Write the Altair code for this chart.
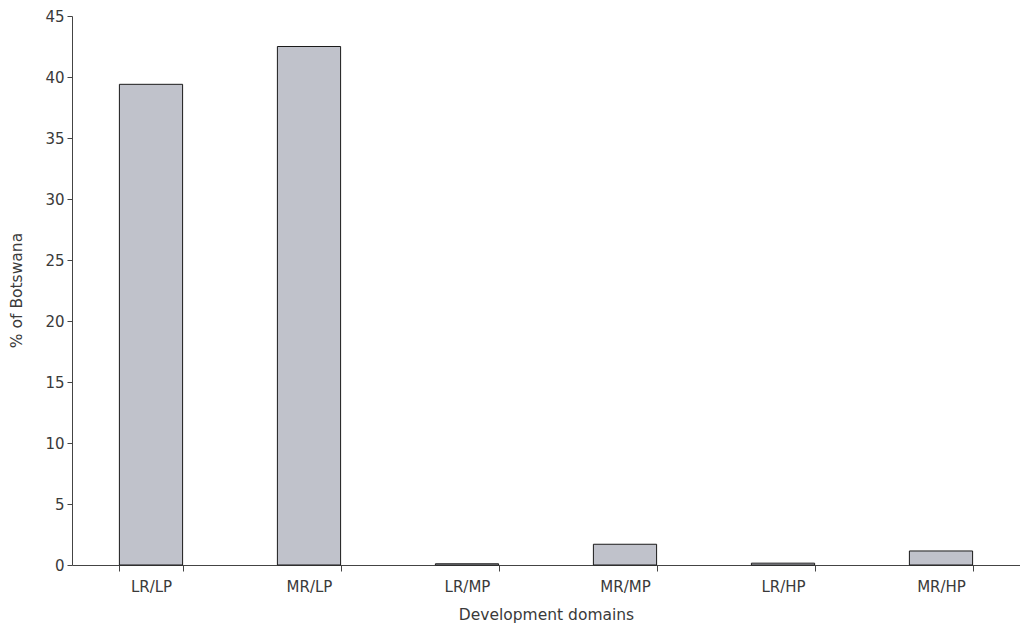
import altair as alt
import pandas as pd

categories = ["LR/LP", "MR/LP", "LR/MP", "MR/MP", "LR/HP", "MR/HP"]
values = [39.4, 42.5, 0.1, 1.7, 0.15, 1.15]

df = pd.DataFrame({"domain": categories, "pct": values})

FONT = "DejaVu Sans"
TXT = "#3a3a3a"

chart = alt.Chart(df).mark_bar(
    color="#c0c2cb", stroke="#1a1a1a", strokeWidth=1
).encode(
    x=alt.X("domain:N", sort=categories, title="Development domains",
            scale=alt.Scale(paddingInner=0.6, paddingOuter=0.3),
            axis=alt.Axis(labelAngle=0, tickBand="extent", tickSize=6,
                          labelPadding=8, titleY=49, titleBaseline="middle",
                          labelFontSize=15, titleFontSize=15.5,
                          labelFont=FONT, titleFont=FONT,
                          labelColor=TXT, titleColor=TXT,
                          domainColor="#444", tickColor="#444",
                          titleFontWeight="normal")),
    y=alt.Y("pct:Q", title="% of Botswana",
            scale=alt.Scale(domain=[0, 45], nice=False),
            axis=alt.Axis(values=list(range(0, 50, 5)), tickSize=5,
                          labelPadding=3, titleX=-48, titleY=274,
                          labelFontSize=15, titleFontSize=15.5,
                          labelFont=FONT, titleFont=FONT,
                          labelColor=TXT, titleColor=TXT,
                          domainColor="#444", tickColor="#444",
                          grid=False, titleFontWeight="normal")),
).properties(
    width=948, height=549,
    autosize=alt.AutoSizeParams(type="none"),
    padding={"left": 64, "top": 8, "right": 0, "bottom": 58},
).configure_view(stroke=None)

chart.save("out.html", embed_options={"renderer": "svg", "actions": False})
